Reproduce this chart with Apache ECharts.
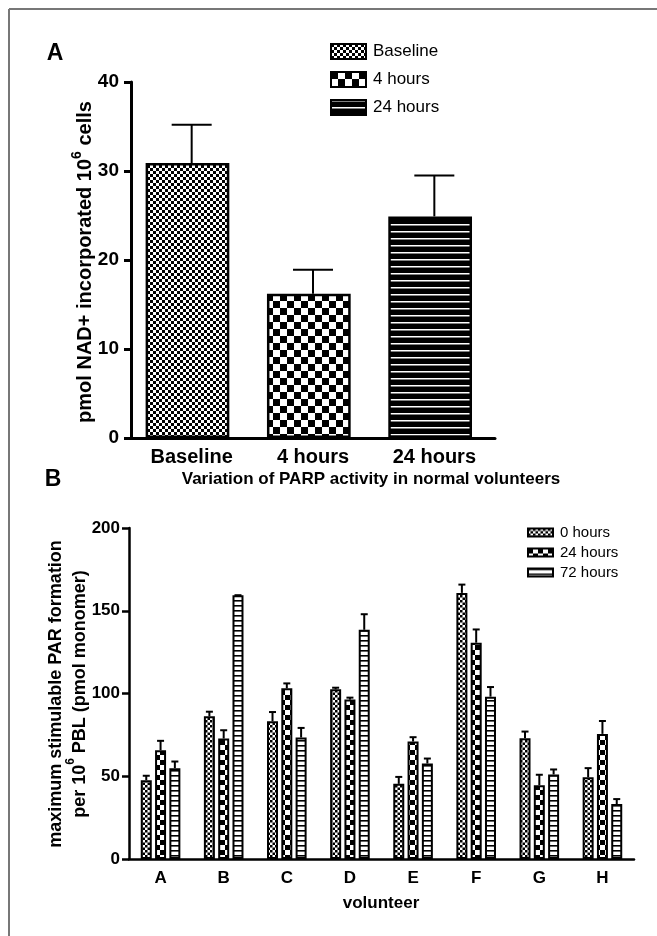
<!DOCTYPE html>
<html>
<head>
    <meta charset="utf-8">
    <title>PARP activity</title>
    <script src="https://cdn.jsdelivr.net/npm/echarts@6/dist/echarts.min.js"></script>
    <style>
        html, body { margin: 0; padding: 0; background: #fff; }
        #main { width: 657px; height: 936px; }
    </style>
</head>
<body>
<div id="main"></div>
<script>
    // panel A
    var catA = ['Baseline', '4 hours', '24 hours'];
    var meanA = [30.9, 16.2, 24.9];
    var errA = [4.3, 2.7, 4.6];
    var ticksA = [0, 10, 20, 30, 40];

    // panel B
    var volunteers = ['A', 'B', 'C', 'D', 'E', 'F', 'G', 'H'];
    var seriesNamesB = ['0 hours', '24 hours', '72 hours'];
    var h0 = [47.6, 86.2, 83.2, 102.5, 45.4, 160.8, 73.0, 49.4];
    var h0Err = [2.7, 2.8, 5.6, 1.0, 4.2, 5.0, 4.0, 5.5];
    var h24 = [65.7, 72.8, 103.1, 96.3, 71.0, 130.7, 44.6, 75.6];
    var h24Err = [5.7, 5.0, 3.0, 1.2, 2.6, 8.0, 6.3, 7.8];
    var h72 = [54.9, 159.4, 73.4, 138.5, 57.7, 98.1, 51.1, 33.2];
    var h72Err = [4.0, 0.0, 5.8, 9.4, 3.0, 5.8, 3.0, 3.0];
    var ticksB = [0, 50, 100, 150, 200];

    var FONT = "'Liberation Sans', Arial, Helvetica, sans-serif";

    // pattern helpers
    function checker(cell) {
        var c = document.createElement('canvas');
        c.width = c.height = cell * 2;
        var g = c.getContext('2d');
        g.fillStyle = '#fff';
        g.fillRect(0, 0, cell * 2, cell * 2);
        g.fillStyle = '#000';
        g.fillRect(0, 0, cell, cell);
        g.fillRect(cell, cell, cell, cell);
        return {image: c, repeat: 'repeat'};
    }
    function stripes(step, line, bg, fg) {
        var c = document.createElement('canvas');
        c.width = 4;
        c.height = step;
        var g = c.getContext('2d');
        g.fillStyle = bg;
        g.fillRect(0, 0, 4, step);
        g.fillStyle = fg;
        g.fillRect(0, 0, 4, line);
        return {image: c, repeat: 'repeat'};
    }

    var patBase = checker(3);
    var pat4h = checker(7);
    var pat24h = stripes(7, 1.5, '#000', '#fff');
    var patB0 = checker(2.5);
    var patB24 = checker(5);
    var patB72 = stripes(5.3, 1.6, '#fff', '#000');
    var patsA = [patBase, pat4h, pat24h];
    var patsB = [patB0, patB24, patB72];

    var BW = 11, GAP = 0.3;

    // upper error bar with cap, drawn through the axes
    function errorRender(offset, half) {
        return function (params, api) {
            var x = api.value(0), m = api.value(1), e = api.value(2);
            var p0 = api.coord([x, m]);
            var p1 = api.coord([x, m + e]);
            var cx = p0[0] + offset;
            var st = {stroke: '#000', lineWidth: 2};
            return {
                type: 'group',
                children: [
                    {type: 'line', shape: {x1: cx, y1: p0[1], x2: cx, y2: p1[1]}, style: st},
                    {type: 'line', shape: {x1: cx - half, y1: p1[1], x2: cx + half, y2: p1[1]}, style: st}
                ]
            };
        };
    }

    var chart = echarts.init(document.getElementById('main'), null, {renderer: 'canvas'});

    var series = [
        {
            name: 'A-bars', type: 'bar', xAxisIndex: 0, yAxisIndex: 0,
            barWidth: '69%',
            data: catA.map(function (c, i) {
                return {value: meanA[i], itemStyle: {color: patsA[i]}};
            }),
            itemStyle: {borderColor: '#000', borderWidth: 2.5}
        },
        {
            type: 'custom', xAxisIndex: 0, yAxisIndex: 0, z: 5,
            renderItem: errorRender(0, 20),
            data: catA.map(function (c, i) { return [i, meanA[i], errA[i]]; })
        }
    ];

    // empty series only for the panel A legend
    catA.forEach(function (n, i) {
        series.push({
            name: n, type: 'bar', xAxisIndex: 0, yAxisIndex: 0, data: [],
            itemStyle: {color: patsA[i], borderColor: '#000', borderWidth: 2}
        });
    });

    var dataB = [h0, h24, h72];
    var errB = [h0Err, h24Err, h72Err];
    seriesNamesB.forEach(function (n, k) {
        series.push({
            name: n + ' (B)', type: 'bar', xAxisIndex: 1, yAxisIndex: 1,
            barWidth: BW, barGap: (GAP * 100) + '%',
            data: dataB[k],
            itemStyle: {color: patsB[k], borderColor: '#000', borderWidth: 2}
        });
    });
    seriesNamesB.forEach(function (n, k) {
        series.push({
            type: 'custom', xAxisIndex: 1, yAxisIndex: 1, z: 5,
            renderItem: errorRender((k - 1) * BW * (1 + GAP), 3.5),
            data: volunteers.map(function (v, i) { return [i, dataB[k][i], errB[k][i]]; })
        });
    });

    var option = {
        animation: false,
        backgroundColor: '#fff',
        textStyle: {fontFamily: FONT, color: '#000'},
        grid: [
            {left: 131, right: 162, top: 82, height: 356},
            {left: 129, right: 23, top: 528, height: 331}
        ],
        legend: [
            {
                data: catA,
                orient: 'vertical', left: 325, top: 38,
                itemWidth: 35, itemHeight: 15, itemGap: 11,
                icon: 'rect', selectedMode: false,
                textStyle: {fontFamily: FONT, fontSize: 17, color: '#000', padding: [0, 0, 0, 2]}
            },
            {
                data: seriesNamesB.map(function (n) { return n + ' (B)'; }),
                formatter: function (n) { return n.replace(' (B)', ''); },
                orient: 'vertical', left: 522, top: 520,
                itemWidth: 25, itemHeight: 8, itemGap: 5,
                icon: 'rect', selectedMode: false,
                textStyle: {fontFamily: FONT, fontSize: 15, color: '#000', padding: [0, 0, 0, 2]}
            }
        ],
        xAxis: [
            {
                type: 'category', gridIndex: 0, data: catA,
                axisLine: {lineStyle: {color: '#000', width: 3}},
                axisTick: {show: false},
                axisLabel: {color: '#000', fontFamily: FONT, fontWeight: 'bold', fontSize: 20, margin: 9}
            },
            {
                type: 'category', gridIndex: 1, data: volunteers,
                axisLine: {lineStyle: {color: '#000', width: 2.5}},
                axisTick: {alignWithLabel: true, length: 6, lineStyle: {color: '#000', width: 2}},
                axisLabel: {color: '#000', fontFamily: FONT, fontWeight: 'bold', fontSize: 17, margin: 11}
            }
        ],
        yAxis: [
            {
                type: 'value', gridIndex: 0, min: ticksA[0], max: ticksA[ticksA.length - 1], interval: 10,
                axisLine: {show: true, lineStyle: {color: '#000', width: 3}},
                axisTick: {show: true, length: 7, lineStyle: {color: '#000', width: 3}},
                axisLabel: {color: '#000', fontFamily: FONT, fontWeight: 'bold', fontSize: 19, margin: 12},
                splitLine: {show: false}
            },
            {
                type: 'value', gridIndex: 1, min: ticksB[0], max: ticksB[ticksB.length - 1], interval: 50,
                axisLine: {show: true, lineStyle: {color: '#000', width: 2.5}},
                axisTick: {show: true, length: 7, lineStyle: {color: '#000', width: 2.5}},
                axisLabel: {color: '#000', fontFamily: FONT, fontWeight: 'bold', fontSize: 17, margin: 9},
                splitLine: {show: false}
            }
        ],
        graphic: [
            // frame
            {type: 'line', shape: {x1: 9, y1: 9, x2: 9, y2: 936}, style: {stroke: '#777', lineWidth: 2}},
            {type: 'line', shape: {x1: 9, y1: 9, x2: 657, y2: 9}, style: {stroke: '#777', lineWidth: 2}},
            {
                type: 'text', x: 55, y: 54,
                style: {text: 'A', font: 'bold 23px ' + FONT, fill: '#000', align: 'center', verticalAlign: 'middle'}
            },
            {
                type: 'text', x: 53, y: 480,
                style: {text: 'B', font: 'bold 23px ' + FONT, fill: '#000', align: 'center', verticalAlign: 'middle'}
            },
            {
                type: 'text', x: 371, y: 479,
                style: {text: 'Variation of PARP activity in normal volunteers', font: 'bold 17px ' + FONT,
                    fill: '#000', align: 'center', verticalAlign: 'middle'}
            },
            {
                type: 'text', x: 381, y: 903,
                style: {text: 'volunteer', font: 'bold 17px ' + FONT, fill: '#000', align: 'center', verticalAlign: 'middle'}
            },
            {
                type: 'text', x: 83, y: 262, rotation: Math.PI / 2,
                style: {
                    text: '{n|pmol NAD+ incorporated 10}{s|6}{n| cells}',
                    align: 'center', verticalAlign: 'middle',
                    rich: {
                        n: {font: 'bold 20px ' + FONT, fill: '#000', lineHeight: 25, verticalAlign: 'bottom'},
                        s: {font: 'bold 14px ' + FONT, fill: '#000', lineHeight: 25, verticalAlign: 'top'}
                    }
                }
            },
            {
                type: 'text', x: 65, y: 694, rotation: Math.PI / 2,
                style: {
                    text: '{n|maximum stimulable PAR formation}\n{n|per 10}{s|6}{n| PBL (pmol monomer)}',
                    align: 'center', verticalAlign: 'middle',
                    rich: {
                        n: {font: 'bold 18px ' + FONT, fill: '#000', lineHeight: 24, verticalAlign: 'bottom'},
                        s: {font: 'bold 12px ' + FONT, fill: '#000', lineHeight: 24, verticalAlign: 'top'}
                    }
                }
            }
        ],
        series: series
    };

    chart.setOption(option);

    window.onresize = function () {
        chart.resize();
    };
</script>
</body>
</html>
